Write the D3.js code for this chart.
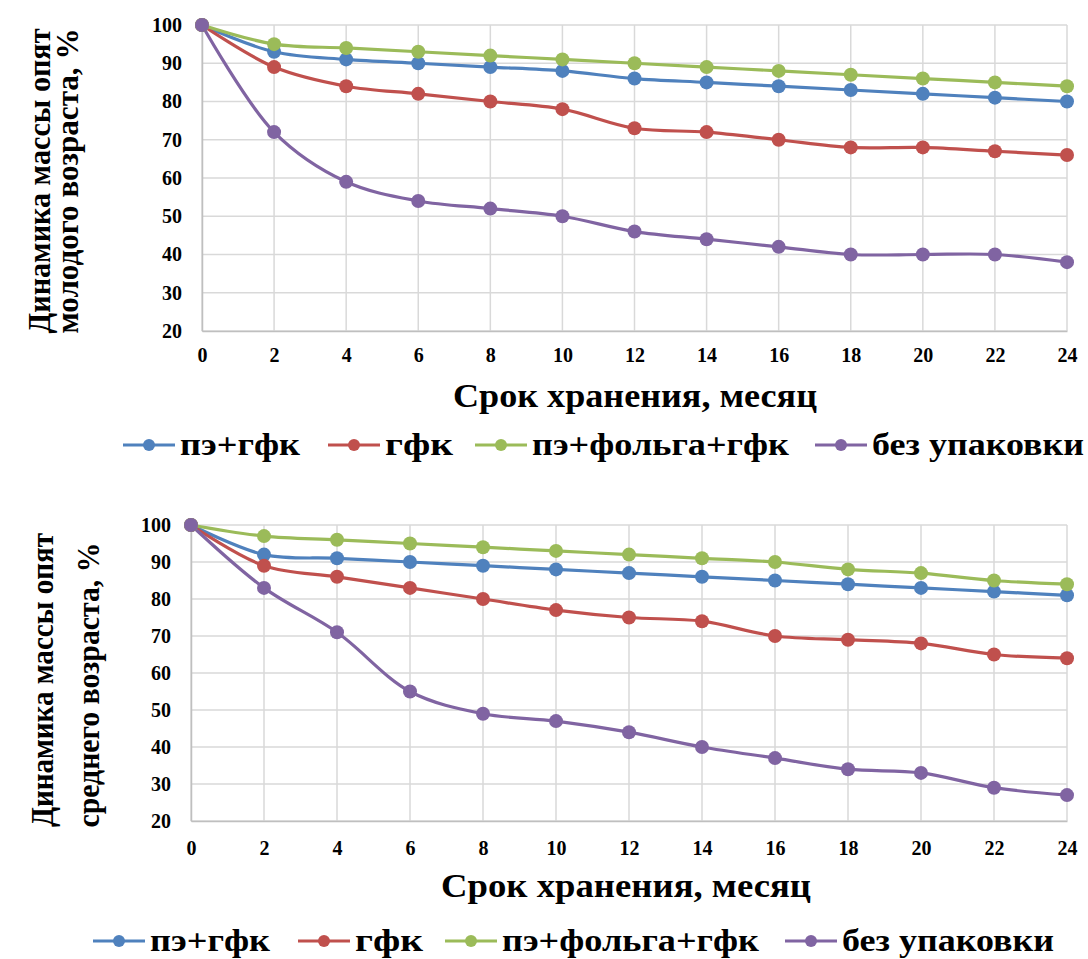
<!DOCTYPE html>
<html><head><meta charset="utf-8">
<script src="https://cdn.jsdelivr.net/npm/d3@7"></script>
<style>body{margin:0;background:#fff}svg{display:block}text{font-family:"Liberation Serif","Times New Roman",serif;font-weight:bold;fill:#000}</style>
</head><body>
<svg id="c" width="1088" height="959"></svg>
<script>
const months = [0,2,4,6,8,10,12,14,16,18,20,22,24];
const seriesNames = ["пэ+гфк","гфк","пэ+фольга+гфк","без упаковки"];
const colors = ["#4F81BD","#C0504D","#9BBB59","#8064A2"];
const yTicks = [20,30,40,50,60,70,80,90,100];

// chart 1: young mushrooms
const young_pe_gfk   = [100,93,91,90,89,88,86,85,84,83,82,81,80];
const young_gfk      = [100,89,84,82,80,78,73,72,70,68,68,67,66];
const young_pe_foil  = [100,95,94,93,92,91,90,89,88,87,86,85,84];
const young_none     = [100,72,59,54,52,50,46,44,42,40,40,40,38];
// chart 2: middle-aged mushrooms
const mid_pe_gfk     = [100,92,91,90,89,88,87,86,85,84,83,82,81];
const mid_gfk        = [100,89,86,83,80,77,75,74,70,69,68,65,64];
const mid_pe_foil    = [100,97,96,95,94,93,92,91,90,88,87,85,84];
const mid_none       = [100,83,71,55,49,47,44,40,37,34,33,29,27];

const xTitle = "Срок хранения, месяц";
const yTitle1 = ["Динамика массы опят","молодого возраста, %"];
const yTitle2 = ["Динамика массы опят","среднего возраста, %"];

const svg = d3.select("#c");
const legLineOff = [0,205,352,692];
const legTextW = [120,68,257,212];

function drawChart(cfg){
  const g = svg.append("g");
  const x = d3.scaleLinear().domain([0,24]).range([cfg.x0,cfg.x1]);
  const y = d3.scaleLinear().domain([20,100]).range([cfg.yb,cfg.yt]);
  g.append("g").selectAll("line").data(yTicks).join("line")
    .attr("x1",cfg.x0).attr("x2",cfg.x1).attr("y1",d=>y(d)).attr("y2",d=>y(d))
    .attr("stroke","#d9d9d9").attr("stroke-width",1.5);
  g.append("g").selectAll("line").data(months).join("line")
    .attr("y1",cfg.yt).attr("y2",cfg.yb).attr("x1",d=>x(d)).attr("x2",d=>x(d))
    .attr("stroke","#d9d9d9").attr("stroke-width",1.5);
  const ya = g.append("g").attr("transform",`translate(${cfg.x0},0)`)
    .call(d3.axisLeft(y).tickValues(yTicks).tickSize(0).tickPadding(20));
  const xa = g.append("g").attr("transform",`translate(0,${cfg.yb})`)
    .call(d3.axisBottom(x).tickValues(months).tickSize(0).tickPadding(cfg.xpad));
  [ya,xa].forEach(a=>{a.select(".domain").attr("stroke","#bfbfbf").attr("stroke-width",1.5);
    a.selectAll("text").style("font-family",'"Liberation Serif",serif').style("font-weight","bold").style("font-size","20px").attr("fill","#000");});
  const line = d3.line().x((d,i)=>x(months[i])).y(d=>y(d)).curve(d3.curveCatmullRom.alpha(0.5));
  cfg.data.forEach((s,k)=>{
    g.append("path").attr("d",line(s)).attr("fill","none").attr("stroke",colors[k]).attr("stroke-width",3.2);
  });
  cfg.data.forEach((s,k)=>{
    g.append("g").selectAll("circle").data(s).join("circle")
      .attr("cx",(d,i)=>x(months[i])).attr("cy",d=>y(d)).attr("r",7).attr("fill",colors[k]);
  });
  g.append("text").attr("x",cfg.xtx).attr("y",cfg.xty).attr("text-anchor","middle")
    .attr("textLength",cfg.xtw).attr("lengthAdjust","spacingAndGlyphs")
    .style("font-size","34px").text(xTitle);
  cfg.yTitle.forEach((t,i)=>{
    g.append("text").attr("transform",`translate(${cfg.ytx[i]},${cfg.yty[i]}) rotate(-90)`)
      .attr("text-anchor","middle").attr("textLength",cfg.ytw[i]).attr("lengthAdjust","spacingAndGlyphs")
      .style("font-size","32px").text(t);
  });
  const lg = g.append("g");
  seriesNames.forEach((n,k)=>{
    const lx = cfg.legX + legLineOff[k];
    lg.append("line").attr("x1",lx).attr("x2",lx+52).attr("y1",cfg.legY).attr("y2",cfg.legY)
      .attr("stroke",colors[k]).attr("stroke-width",3.2);
    lg.append("circle").attr("cx",lx+26).attr("cy",cfg.legY).attr("r",6).attr("fill",colors[k]);
    lg.append("text").attr("x",lx+57).attr("y",cfg.legY+10)
      .attr("textLength",legTextW[k]).attr("lengthAdjust","spacingAndGlyphs")
      .style("font-size","32px").text(n);
  });
}

drawChart({x0:202,x1:1067,yt:25,yb:331,xpad:17,data:[young_pe_gfk,young_gfk,young_pe_foil,young_none],
  xtx:635,xty:407,xtw:364,yTitle:yTitle1,ytx:[50,78],yty:[181,181],ytw:[305,305],legY:445,legX:123});
drawChart({x0:191,x1:1067,yt:525,yb:821,xpad:20,data:[mid_pe_gfk,mid_gfk,mid_pe_foil,mid_none],
  xtx:626,xty:897,xtw:370,yTitle:yTitle2,ytx:[53,99],yty:[680,685],ytw:[294,285],legY:941,legX:93});
</script>
</body></html>
